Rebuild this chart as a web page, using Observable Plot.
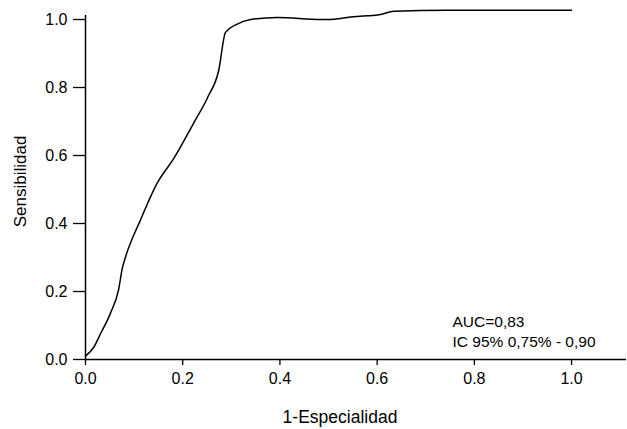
<!DOCTYPE html>
<html>
<head>
<meta charset="utf-8">
<script src="https://cdn.jsdelivr.net/npm/d3@7"></script>
<script src="https://cdn.jsdelivr.net/npm/@observablehq/plot@0.6"></script>
<style>
  html, body { margin: 0; padding: 0; background: #fff; }
</style>
</head>
<body>
<div id="chart"></div>
<script>
// 1 - specificity (false positive rate)
const fpr = [0, 0.017, 0.031, 0.051, 0.068, 0.076, 0.082, 0.113, 0.148, 0.181, 0.222, 0.251, 0.274, 0.288, 0.31, 0.34, 0.395, 0.484, 0.498, 0.55, 0.607, 0.634, 0.745, 1.0];
// sensitivity (true positive rate)
const tpr = [0.01, 0.036, 0.076, 0.135, 0.205, 0.27, 0.30, 0.41, 0.52, 0.59, 0.694, 0.77, 0.85, 0.962, 0.985, 1.0, 1.006, 1.0, 1.0, 1.008, 1.015, 1.024, 1.027, 1.027];
const tickValues = [0, 0.2, 0.4, 0.6, 0.8, 1.0];
const xTitle = "1-Especialidad";
const yTitle = "Sensibilidad";
const annotation = ["AUC=0,83", "IC 95% 0,75% - 0,90"];

const data = fpr.map((x, i) => ({x, y: tpr[i]}));
const font = "'Liberation Sans', Arial, sans-serif";

const chart = Plot.plot({
  width: 627,
  height: 429,
  marginLeft: 85,
  marginRight: 1,
  marginTop: 15,
  marginBottom: 70,
  style: {fontFamily: font, fontSize: "16px", color: "#000", background: "#fff"},
  x: {domain: [0, 1.113]},
  y: {domain: [0, 1.0118]},
  marks: [
    Plot.axisX({ticks: tickValues, tickFormat: d3.format(".1f"), tickSize: 6, tickPadding: 7, label: null, stroke: "#000", strokeWidth: 1.3}),
    Plot.axisY({ticks: tickValues, tickFormat: d3.format(".1f"), tickSize: 12, tickPadding: 6, label: null, stroke: "#000", strokeWidth: 1.3}),
    Plot.ruleY([0], {stroke: "#000", strokeWidth: 1.5}),
    Plot.ruleX([0], {stroke: "#000", strokeWidth: 1.5}),
    Plot.line(data, {x: "x", y: "y", stroke: "#000", strokeWidth: 1.5, curve: "monotone-x"}),
    Plot.text([xTitle], {text: d => d, frameAnchor: "bottom", textAnchor: "middle", lineAnchor: "middle", dx: -16, dy: 58, fontSize: 17.5, fill: "#000"}),
    Plot.text([yTitle], {text: d => d, frameAnchor: "left", textAnchor: "middle", lineAnchor: "middle", rotate: -90, dx: -65, dy: -6, fontSize: 17, fill: "#000"}),
    Plot.text([annotation.join("\n")], {text: d => d, frameAnchor: "bottom-left", textAnchor: "start", lineAnchor: "middle", lineHeight: 1.28, dx: 367, dy: -29, fontSize: 15.5, fill: "#000"})
  ]
});
document.getElementById("chart").appendChild(chart);
</script>
</body>
</html>
